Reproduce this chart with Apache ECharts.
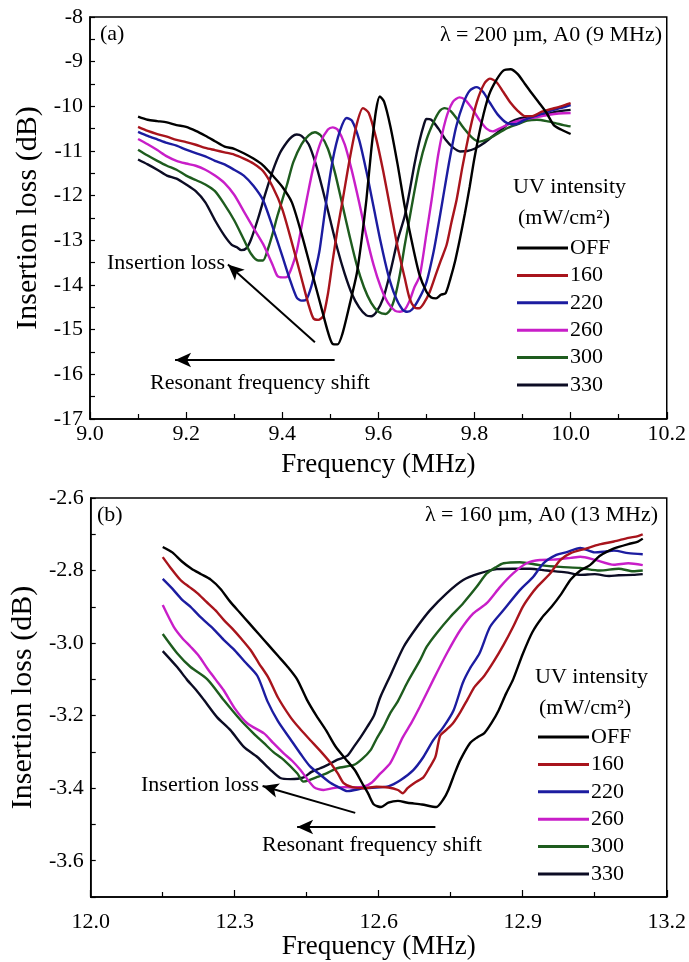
<!DOCTYPE html>
<html>
<head>
<meta charset="utf-8">
<script src="https://cdn.jsdelivr.net/npm/echarts@6/dist/echarts.min.js"></script>
<style>
  html, body { margin: 0; padding: 0; background: #fff; }
  #chart { width: 689px; height: 962px; }
</style>
</head>
<body>
<div id="chart"></div>
<script>
// UV intensity levels (mW/cm^2) and their line colours
const levels = ['OFF', '160', '220', '260', '300', '330'];
const colors = ['#000000', '#a8141c', '#1c1ca0', '#c81ec8', '#1e5c1e', '#0c0c24'];

// (a) lambda = 200 um, A0 (9 MHz): [frequency MHz, insertion loss dB]
const a_off = [[9.10,-10.23],[9.12,-10.30],[9.14,-10.33],[9.16,-10.36],[9.18,-10.42],[9.20,-10.46],[9.22,-10.55],[9.24,-10.66],[9.26,-10.78],[9.28,-10.90],[9.30,-10.95],[9.32,-11.05],[9.34,-11.17],[9.36,-11.32],[9.38,-11.55],[9.40,-11.80],[9.42,-12.15],[9.44,-12.85],[9.46,-13.65],[9.48,-14.45],[9.495,-15.05],[9.505,-15.32],[9.515,-15.33],[9.525,-15.10],[9.54,-14.45],[9.555,-13.75],[9.565,-13.00],[9.575,-12.10],[9.585,-11.00],[9.595,-10.10],[9.603,-9.78],[9.612,-9.90],[9.625,-10.45],[9.64,-11.30],[9.655,-12.25],[9.67,-13.05],[9.685,-13.75],[9.70,-14.15],[9.71,-14.28],[9.72,-14.30],[9.73,-14.22],[9.74,-14.18],[9.75,-13.85],[9.76,-13.45],[9.77,-12.95],[9.78,-12.40],[9.79,-11.80],[9.80,-11.15],[9.815,-10.35],[9.83,-9.75],[9.845,-9.42],[9.86,-9.20],[9.875,-9.17],[9.89,-9.28],[9.905,-9.50],[9.92,-9.72],[9.935,-9.93],[9.95,-10.15],[9.965,-10.42],[9.98,-10.52],[10.0,-10.62]];
const a_160 = [[9.10,-10.46],[9.12,-10.55],[9.14,-10.62],[9.16,-10.68],[9.18,-10.75],[9.20,-10.80],[9.22,-10.86],[9.24,-10.93],[9.26,-10.98],[9.28,-11.03],[9.30,-11.08],[9.32,-11.17],[9.34,-11.28],[9.36,-11.45],[9.38,-11.80],[9.40,-12.30],[9.42,-13.05],[9.44,-13.85],[9.455,-14.45],[9.465,-14.75],[9.475,-14.78],[9.485,-14.70],[9.495,-14.20],[9.505,-13.45],[9.515,-12.75],[9.526,-12.08],[9.54,-11.20],[9.555,-10.40],[9.568,-10.04],[9.58,-10.15],[9.595,-10.70],[9.61,-11.45],[9.625,-12.30],[9.64,-13.15],[9.655,-13.85],[9.665,-14.30],[9.675,-14.50],[9.685,-14.52],[9.695,-14.40],[9.707,-14.15],[9.72,-13.75],[9.73,-13.45],[9.742,-13.10],[9.752,-12.60],[9.763,-12.08],[9.775,-11.35],[9.79,-10.55],[9.805,-9.90],[9.82,-9.50],[9.832,-9.38],[9.845,-9.45],[9.86,-9.68],[9.875,-9.92],[9.89,-10.10],[9.905,-10.22],[9.92,-10.22],[9.94,-10.12],[9.96,-10.06],[9.98,-10.00],[10.0,-9.93]];
const a_220 = [[9.10,-10.57],[9.12,-10.66],[9.14,-10.74],[9.16,-10.82],[9.18,-10.88],[9.20,-10.97],[9.22,-11.05],[9.24,-11.12],[9.26,-11.22],[9.28,-11.30],[9.30,-11.42],[9.32,-11.55],[9.34,-11.78],[9.36,-12.10],[9.38,-12.70],[9.40,-13.35],[9.415,-13.85],[9.43,-14.28],[9.44,-14.35],[9.45,-14.33],[9.46,-14.05],[9.47,-13.62],[9.478,-13.20],[9.492,-12.10],[9.505,-11.20],[9.52,-10.55],[9.534,-10.26],[9.545,-10.32],[9.56,-10.75],[9.575,-11.45],[9.59,-12.25],[9.605,-13.05],[9.62,-13.75],[9.635,-14.25],[9.65,-14.55],[9.66,-14.60],[9.67,-14.55],[9.685,-14.30],[9.70,-13.94],[9.715,-13.25],[9.725,-12.65],[9.734,-12.08],[9.748,-11.20],[9.762,-10.45],[9.778,-9.90],[9.79,-9.65],[9.804,-9.57],[9.818,-9.68],[9.832,-9.92],[9.848,-10.18],[9.867,-10.37],[9.885,-10.40],[9.905,-10.30],[9.925,-10.22],[9.945,-10.15],[9.965,-10.08],[9.985,-10.02],[10.0,-9.97]];
const a_260 = [[9.10,-10.73],[9.12,-10.85],[9.14,-10.98],[9.16,-11.12],[9.18,-11.22],[9.20,-11.28],[9.22,-11.33],[9.24,-11.42],[9.26,-11.55],[9.28,-11.72],[9.30,-11.98],[9.32,-12.35],[9.34,-12.72],[9.36,-13.08],[9.38,-13.55],[9.39,-13.80],[9.40,-13.83],[9.41,-13.82],[9.42,-13.60],[9.43,-13.25],[9.44,-12.70],[9.451,-12.08],[9.465,-11.35],[9.48,-10.80],[9.495,-10.52],[9.505,-10.47],[9.515,-10.52],[9.53,-10.85],[9.545,-11.45],[9.56,-12.15],[9.575,-12.90],[9.59,-13.55],[9.605,-14.05],[9.62,-14.40],[9.635,-14.58],[9.645,-14.60],[9.655,-14.55],[9.665,-14.35],[9.675,-14.05],[9.686,-13.80],[9.70,-12.85],[9.711,-12.08],[9.725,-11.05],[9.74,-10.30],[9.755,-9.90],[9.769,-9.80],[9.78,-9.85],[9.795,-10.05],[9.81,-10.30],[9.825,-10.50],[9.838,-10.56],[9.855,-10.48],[9.875,-10.38],[9.90,-10.30],[9.925,-10.25],[9.95,-10.20],[9.975,-10.16],[10.0,-10.15]];
const a_300 = [[9.10,-10.97],[9.12,-11.10],[9.14,-11.22],[9.16,-11.33],[9.18,-11.42],[9.20,-11.55],[9.22,-11.65],[9.24,-11.75],[9.26,-11.90],[9.28,-12.20],[9.30,-12.55],[9.32,-12.98],[9.335,-13.30],[9.35,-13.45],[9.36,-13.45],[9.37,-13.20],[9.38,-12.85],[9.39,-12.45],[9.40,-12.10],[9.41,-11.75],[9.423,-11.25],[9.44,-10.85],[9.455,-10.65],[9.468,-10.58],[9.48,-10.65],[9.495,-10.95],[9.51,-11.50],[9.525,-12.20],[9.54,-12.90],[9.555,-13.55],[9.57,-14.05],[9.585,-14.40],[9.60,-14.60],[9.615,-14.65],[9.625,-14.55],[9.635,-14.25],[9.645,-13.75],[9.655,-13.10],[9.665,-12.50],[9.672,-12.08],[9.685,-11.35],[9.70,-10.75],[9.715,-10.35],[9.728,-10.10],[9.738,-10.04],[9.75,-10.10],[9.765,-10.30],[9.78,-10.52],[9.795,-10.70],[9.81,-10.79],[9.83,-10.72],[9.85,-10.60],[9.87,-10.48],[9.89,-10.40],[9.91,-10.32],[9.93,-10.30],[9.95,-10.33],[9.97,-10.38],[9.985,-10.42],[10.0,-10.45]];
const a_330 = [[9.10,-11.19],[9.12,-11.30],[9.14,-11.42],[9.16,-11.55],[9.18,-11.62],[9.20,-11.75],[9.22,-11.90],[9.24,-12.15],[9.26,-12.55],[9.28,-12.90],[9.295,-13.10],[9.305,-13.15],[9.315,-13.22],[9.325,-13.18],[9.335,-12.98],[9.35,-12.50],[9.365,-11.95],[9.38,-11.45],[9.395,-11.05],[9.41,-10.80],[9.42,-10.68],[9.43,-10.63],[9.44,-10.66],[9.455,-10.85],[9.47,-11.30],[9.485,-11.90],[9.50,-12.55],[9.515,-13.20],[9.53,-13.75],[9.545,-14.20],[9.56,-14.50],[9.575,-14.68],[9.585,-14.70],[9.595,-14.62],[9.61,-14.30],[9.625,-13.70],[9.64,-13.00],[9.655,-12.45],[9.665,-11.90],[9.675,-11.30],[9.685,-10.80],[9.695,-10.40],[9.70,-10.28],[9.71,-10.30],[9.725,-10.50],[9.74,-10.75],[9.755,-10.92],[9.77,-11.01],[9.785,-11.00],[9.80,-10.95],[9.82,-10.82],[9.84,-10.65],[9.86,-10.48],[9.875,-10.35],[9.894,-10.27],[9.91,-10.25],[9.93,-10.22],[9.95,-10.18],[9.97,-10.12],[10.0,-10.08]];

// (b) lambda = 160 um, A0 (13 MHz): [frequency MHz, insertion loss dB]
const b_off = [[12.15,-2.735],[12.17,-2.75],[12.19,-2.775],[12.21,-2.795],[12.23,-2.81],[12.25,-2.825],[12.27,-2.85],[12.29,-2.885],[12.31,-2.915],[12.33,-2.945],[12.35,-2.975],[12.37,-3.005],[12.39,-3.035],[12.41,-3.065],[12.43,-3.10],[12.45,-3.155],[12.47,-3.20],[12.49,-3.24],[12.51,-3.285],[12.53,-3.318],[12.55,-3.35],[12.565,-3.385],[12.578,-3.415],[12.59,-3.445],[12.605,-3.452],[12.62,-3.44],[12.64,-3.435],[12.66,-3.44],[12.69,-3.445],[12.72,-3.452],[12.735,-3.43],[12.745,-3.405],[12.758,-3.36],[12.77,-3.322],[12.79,-3.276],[12.805,-3.26],[12.82,-3.248],[12.835,-3.22],[12.85,-3.185],[12.865,-3.14],[12.88,-3.10],[12.90,-3.03],[12.92,-2.97],[12.94,-2.93],[12.96,-2.90],[12.98,-2.865],[13.00,-2.825],[13.02,-2.80],[13.04,-2.785],[13.06,-2.76],[13.08,-2.745],[13.10,-2.735],[13.12,-2.727],[13.14,-2.72],[13.15,-2.712]];
const b_160 = [[12.15,-2.763],[12.165,-2.79],[12.187,-2.826],[12.205,-2.845],[12.222,-2.862],[12.24,-2.885],[12.26,-2.91],[12.277,-2.936],[12.295,-2.96],[12.315,-2.99],[12.333,-3.019],[12.35,-3.055],[12.37,-3.095],[12.39,-3.15],[12.416,-3.204],[12.435,-3.235],[12.457,-3.267],[12.48,-3.30],[12.50,-3.331],[12.515,-3.36],[12.527,-3.386],[12.545,-3.397],[12.57,-3.40],[12.595,-3.396],[12.62,-3.398],[12.64,-3.405],[12.65,-3.414],[12.66,-3.40],[12.675,-3.385],[12.693,-3.37],[12.705,-3.345],[12.718,-3.314],[12.728,-3.255],[12.74,-3.24],[12.755,-3.22],[12.77,-3.19],[12.785,-3.155],[12.80,-3.12],[12.82,-3.09],[12.84,-3.05],[12.86,-3.005],[12.88,-2.955],[12.90,-2.90],[12.915,-2.87],[12.93,-2.845],[12.957,-2.808],[12.978,-2.771],[13.00,-2.752],[13.03,-2.74],[13.06,-2.728],[13.09,-2.72],[13.12,-2.71],[13.14,-2.705],[13.15,-2.70]];
const b_220 = [[12.15,-2.823],[12.17,-2.85],[12.19,-2.88],[12.208,-2.90],[12.23,-2.93],[12.255,-2.96],[12.277,-2.991],[12.30,-3.02],[12.32,-3.05],[12.347,-3.09],[12.368,-3.16],[12.39,-3.215],[12.416,-3.265],[12.437,-3.305],[12.457,-3.34],[12.48,-3.365],[12.50,-3.386],[12.52,-3.40],[12.534,-3.408],[12.55,-3.405],[12.57,-3.40],[12.595,-3.398],[12.62,-3.395],[12.645,-3.378],[12.672,-3.35],[12.693,-3.314],[12.714,-3.267],[12.735,-3.231],[12.756,-3.185],[12.775,-3.11],[12.79,-3.07],[12.81,-3.028],[12.832,-2.955],[12.86,-2.909],[12.894,-2.854],[12.922,-2.817],[12.943,-2.78],[12.97,-2.757],[12.99,-2.75],[13.02,-2.738],[13.05,-2.75],[13.07,-2.748],[13.09,-2.745],[13.12,-2.752],[13.15,-2.755]];
const b_260 = [[12.15,-2.895],[12.173,-2.955],[12.19,-2.985],[12.208,-3.01],[12.225,-3.035],[12.243,-3.07],[12.26,-3.10],[12.277,-3.13],[12.30,-3.18],[12.326,-3.221],[12.361,-3.249],[12.38,-3.275],[12.402,-3.304],[12.42,-3.325],[12.437,-3.35],[12.465,-3.397],[12.485,-3.405],[12.505,-3.40],[12.527,-3.397],[12.55,-3.398],[12.57,-3.395],[12.585,-3.385],[12.603,-3.36],[12.624,-3.331],[12.65,-3.26],[12.668,-3.22],[12.686,-3.175],[12.714,-3.10],[12.742,-3.028],[12.77,-2.964],[12.797,-2.918],[12.825,-2.89],[12.853,-2.845],[12.88,-2.808],[12.908,-2.78],[12.936,-2.771],[12.964,-2.77],[13.00,-2.765],[13.02,-2.762],[13.05,-2.77],[13.09,-2.784],[13.12,-2.78],[13.15,-2.785]];
const b_300 = [[12.15,-2.975],[12.18,-3.028],[12.208,-3.066],[12.243,-3.10],[12.277,-3.157],[12.312,-3.212],[12.34,-3.25],[12.361,-3.276],[12.38,-3.30],[12.402,-3.322],[12.43,-3.359],[12.443,-3.382],[12.455,-3.378],[12.472,-3.369],[12.49,-3.36],[12.513,-3.345],[12.548,-3.336],[12.565,-3.32],[12.583,-3.295],[12.595,-3.265],[12.61,-3.231],[12.624,-3.193],[12.64,-3.16],[12.659,-3.11],[12.686,-3.047],[12.70,-3.01],[12.721,-2.972],[12.749,-2.928],[12.776,-2.89],[12.804,-2.845],[12.825,-2.808],[12.845,-2.79],[12.86,-2.78],[12.894,-2.777],[12.936,-2.785],[12.978,-2.79],[13.02,-2.793],[13.06,-2.80],[13.10,-2.795],[13.13,-2.802],[13.15,-2.80]];
const b_330 = [[12.15,-3.022],[12.18,-3.066],[12.20,-3.10],[12.22,-3.13],[12.236,-3.157],[12.263,-3.204],[12.291,-3.24],[12.319,-3.286],[12.347,-3.314],[12.375,-3.35],[12.395,-3.372],[12.416,-3.375],[12.444,-3.37],[12.46,-3.355],[12.478,-3.345],[12.495,-3.335],[12.513,-3.322],[12.534,-3.311],[12.548,-3.286],[12.562,-3.26],[12.576,-3.231],[12.59,-3.20],[12.603,-3.15],[12.624,-3.09],[12.652,-3.01],[12.68,-2.955],[12.707,-2.909],[12.742,-2.862],[12.776,-2.826],[12.81,-2.808],[12.846,-2.796],[12.88,-2.795],[12.915,-2.795],[12.95,-2.80],[12.99,-2.805],[13.02,-2.812],[13.05,-2.81],[13.08,-2.815],[13.10,-2.813],[13.13,-2.812],[13.15,-2.81]];

// Annotation arrows in data units: [tail, head]
const arrowsA = [[[9.468, -15.28], [9.287, -13.54]], [[9.509, -15.68], [9.177, -15.68]]];
const arrowsB = [[[12.551, -3.468], [12.358, -3.394]], [[12.718, -3.507], [12.43, -3.507]]];

const seriesA = [a_off, a_160, a_220, a_260, a_300, a_330];
const seriesB = [b_off, b_160, b_220, b_260, b_300, b_330];

const FONT = "'Liberation Serif', 'Times New Roman', serif";

function xAxisCfg(grid, min, max, interval, labelMargin, nameGap) {
  return {
    type: 'value', gridIndex: grid, min: min, max: max, interval: interval,
    name: 'Frequency (MHz)', nameLocation: 'middle', nameGap: nameGap,
    nameTextStyle: { fontFamily: FONT, fontSize: 27, color: '#000' },
    axisLine: { lineStyle: { color: '#000', width: 1.5 } },
    axisTick: { inside: true, length: 7, lineStyle: { color: '#000', width: 1.2 } },
    minorTick: { show: true, splitNumber: 2, length: 5, lineStyle: { color: '#000', width: 1.2 } },
    splitLine: { show: false },
    axisLabel: { fontFamily: FONT, fontSize: 22, color: '#000', margin: labelMargin,
      formatter: v => v.toFixed(1) }
  };
}

function yAxisCfg(grid, min, max, interval, minorSplit, fmt) {
  return {
    type: 'value', gridIndex: grid, min: min, max: max, interval: interval,
    name: 'Insertion loss (dB)', nameLocation: 'middle', nameGap: 45, nameRotate: 90,
    nameTextStyle: { fontFamily: FONT, fontSize: 30, color: '#000' },
    axisLine: { lineStyle: { color: '#000', width: 1.5 } },
    axisTick: { inside: true, length: 5, lineStyle: { color: '#000', width: 1.2 } },
    minorTick: { show: minorSplit > 0, splitNumber: minorSplit || 1, length: 5, lineStyle: { color: '#000', width: 1.2 } },
    splitLine: { show: false },
    axisLabel: { fontFamily: FONT, fontSize: 22, color: '#000', margin: 7, formatter: fmt }
  };
}

function arrowMarks(arrows) {
  return {
    silent: true,
    symbol: ['none', 'arrow'],
    symbolSize: [11, 16],
    label: { show: false },
    lineStyle: { color: '#000', width: 2, type: 'solid' },
    itemStyle: { color: '#000' },
    emphasis: { disabled: true },
    data: arrows.map(a => [{ coord: a[0] }, { coord: a[1] }])
  };
}

function makeSeries(list, axisIdx, arrows) {
  return list.map((d, i) => ({
    name: levels[i],
    type: 'line',
    xAxisIndex: axisIdx, yAxisIndex: axisIdx,
    data: d,
    showSymbol: false, symbol: 'none',
    smooth: 0.25,
    lineStyle: { color: colors[i], width: 2.4 },
    itemStyle: { color: colors[i] },
    z: 10 - i,
    markLine: i === 0 ? arrowMarks(arrows) : undefined
  }));
}

function legendCfg(left, top) {
  return {
    data: levels, orient: 'vertical', left: left, top: top,
    icon: 'rect', itemWidth: 51, itemHeight: 3, itemGap: 5.4,
    selectedMode: false,
    textStyle: { fontFamily: FONT, fontSize: 22, color: '#000', lineHeight: 22, padding: [0, 0, 0, -3] }
  };
}

function txt(x, y, s, align) {
  return { type: 'text', x: x, y: y, silent: true,
    style: { text: s, font: '22px ' + FONT, fill: '#000', align: align || 'left', verticalAlign: 'middle' } };
}

const chart = echarts.init(document.getElementById('chart'), null, { renderer: 'canvas' });
chart.setOption({
  animation: false,
  backgroundColor: '#fff',
  grid: [
    { left: 90, top: 17, width: 577, height: 402, show: true, borderColor: '#000', borderWidth: 1.5, backgroundColor: 'transparent' },
    { left: 90, top: 498, width: 577, height: 399, show: true, borderColor: '#000', borderWidth: 1.5, backgroundColor: 'transparent' }
  ],
  xAxis: [
    xAxisCfg(0, 9.0, 10.2, 0.2, 4, 32),
    xAxisCfg(1, 12.0, 13.2, 0.3, 14, 36)
  ],
  yAxis: [
    yAxisCfg(0, -17, -8, 1, 2, v => String(Math.round(v))),
    yAxisCfg(1, -3.7, -2.6, 0.1, 0, v => (Math.round(v * 10) % 2 === 0 ? v.toFixed(1) : ''))
  ],
  legend: [legendCfg(512, 232), legendCfg(533, 721)],
  series: makeSeries(seriesA, 0, arrowsA).concat(makeSeries(seriesB, 1, arrowsB)),
  graphic: [
    txt(100, 34, '(a)'),
    txt(662, 35, 'λ = 200 µm, A0 (9 MHz)', 'right'),
    txt(513, 187, 'UV intensity'),
    txt(518, 218, '(mW/cm²)'),
    txt(107, 263, 'Insertion loss'),
    txt(150, 383, 'Resonant frequency shift'),
    txt(97, 515, '(b)'),
    txt(658, 515, 'λ = 160 µm, A0 (13 MHz)', 'right'),
    txt(535, 677, 'UV intensity'),
    txt(539, 708, '(mW/cm²)'),
    txt(141, 785, 'Insertion loss'),
    txt(262, 845, 'Resonant frequency shift')
  ]
});
</script>
</body>
</html>
